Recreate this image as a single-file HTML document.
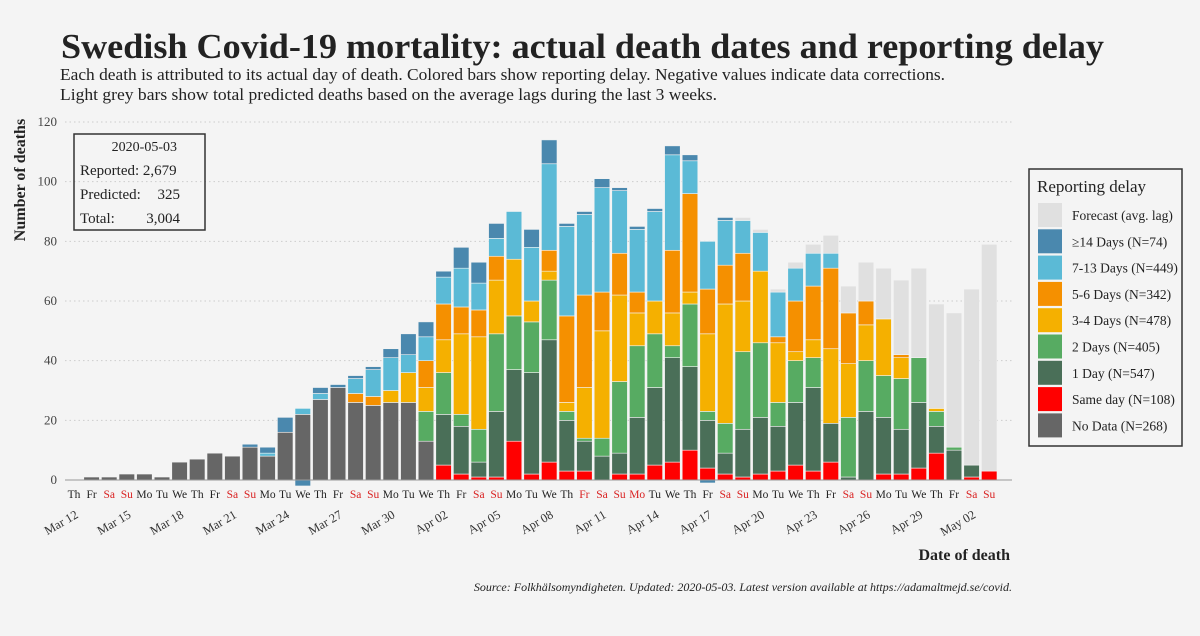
<!DOCTYPE html>
<html><head><meta charset="utf-8">
<style>
html,body{margin:0;padding:0;background:#f4f4f4;}
body{width:1200px;height:631px;overflow:hidden;font-family:"Liberation Serif",serif;}
svg text{font-family:"Liberation Serif",serif;}
</style></head>
<body>
<svg id="chart" width="1200" height="631" xmlns="http://www.w3.org/2000/svg">
<rect width="1200" height="631" fill="#f4f4f4"/>
<text x="61" y="58" font-size="35" font-weight="bold" fill="#222" textLength="1043" lengthAdjust="spacingAndGlyphs">Swedish Covid-19 mortality: actual death dates and reporting delay</text>
<text x="60" y="80" font-size="16.5" fill="#222" textLength="885" lengthAdjust="spacingAndGlyphs">Each death is attributed to its actual day of death. Colored bars show reporting delay. Negative values indicate data corrections.</text>
<text x="60" y="100" font-size="16.5" fill="#222" textLength="657" lengthAdjust="spacingAndGlyphs">Light grey bars show total predicted deaths based on the average lags during the last 3 weeks.</text>
<g id="grid"></g>
<g id="bars"></g>
<g id="axes"></g>
<text transform="translate(25,180) rotate(-90)" text-anchor="middle" font-size="16" font-weight="bold" fill="#222">Number of deaths</text>
<text x="1010" y="560" text-anchor="end" font-size="16" font-weight="bold" fill="#222">Date of death</text>
<text x="1012" y="591" text-anchor="end" font-size="12" font-style="italic" fill="#222">Source: Folkhälsomyndigheten. Updated: 2020-05-03. Latest version available at https://adamaltmejd.se/covid.</text>
<g>
<rect x="74" y="134" width="131" height="96" fill="none" stroke="#333" stroke-width="1.5"/>
<text x="177" y="151" text-anchor="end" font-size="14" fill="#222">2020-05-03</text>
<text x="80" y="175" font-size="15" fill="#222">Reported: 2,679</text>
<text x="80" y="199" font-size="15" fill="#222">Predicted:</text>
<text x="180" y="199" text-anchor="end" font-size="15" fill="#222">325</text>
<text x="80" y="223" font-size="15" fill="#222">Total:</text>
<text x="180" y="223" text-anchor="end" font-size="15" fill="#222">3,004</text>
</g>
<g id="legend">
<rect x="1029" y="169" width="153" height="277" fill="none" stroke="#333" stroke-width="1.5"/>
<text x="1037" y="192" font-size="17" fill="#222">Reporting delay</text>
</g>
</svg>
<script>
const days = ["Th","Fr","Sa","Su","Mo","Tu","We"];
const dateLabels = ["Mar 12","Mar 15","Mar 18","Mar 21","Mar 24","Mar 27","Mar 30","Apr 02","Apr 05","Apr 08","Apr 11","Apr 14","Apr 17","Apr 20","Apr 23","Apr 26","Apr 29","May 02"];
const yTicks = [0,20,40,60,80,100,120];
const holidays = [29,32];
// series (53 days, Mar 12 - May 3)
const noData   = [0,1,1,2,2,1,6,7,9,8,11,8,16,22,27,31,26,25,26,26,13,0,0,0,0,0,0,0,0,0,0,0,0,0,0,0,0,0,0,0,0,0,0,0,0,0,0,0,0,0,0,0,0];
const sameDay  = [0,0,0,0,0,0,0,0,0,0,0,0,0,0,0,0,0,0,0,0,0,5,2,1,1,13,2,6,3,3,0,2,2,5,6,10,4,2,1,2,3,5,3,6,0,0,2,2,4,9,0,1,3];
const oneDay   = [0,0,0,0,0,0,0,0,0,0,0,0,0,0,0,0,0,0,0,0,0,17,16,5,22,24,34,41,17,10,8,7,19,26,35,28,16,7,16,19,15,21,28,13,1,23,19,15,22,9,10,4,0];
const twoDays  = [0,0,0,0,0,0,0,0,0,0,0,0,0,0,0,0,0,0,0,0,10,14,4,11,26,18,17,20,3,1,6,24,24,18,4,21,3,10,26,25,8,14,10,0,20,17,14,17,15,5,1,0,0];
const d34      = [0,0,0,0,0,0,0,0,0,0,0,0,0,0,0,0,0,0,4,10,8,11,27,31,18,19,7,3,3,17,36,29,11,11,11,4,26,40,17,24,20,3,6,25,18,12,19,7,0,1,0,0,0];
const d56      = [0,0,0,0,0,0,0,0,0,0,0,0,0,0,0,0,3,3,0,0,9,12,9,9,8,0,0,7,29,31,13,14,7,0,21,33,15,13,16,0,2,17,18,27,17,8,0,1,0,0,0,0,0];
const d713     = [0,0,0,0,0,0,0,0,0,0,0,1,0,2,2,0,5,9,11,6,8,9,13,9,6,16,18,29,30,27,35,21,21,30,32,11,16,15,11,13,15,11,11,5,0,0,0,0,0,0,0,0,0];
const d14      = [0,0,0,0,0,0,0,0,0,0,1,2,5,-2,2,1,1,1,3,7,5,2,7,7,5,0,6,8,1,1,3,1,1,1,3,2,-1,1,0,0,0,0,0,0,0,0,0,0,0,0,0,0,0];
const forecast = [0,0,0,0,0,0,0,0,0,0,0,0,0,0,0,0,0,0,0,0,0,0,0,0,0,0,0,0,0,0,0,0,0,0,0,0,0,0,1,1,1,2,3,6,9,13,17,25,30,35,45,59,76];
const seriesList = [noData,sameDay,oneDay,twoDays,d34,d56,d713,d14,forecast];
const seriesNames = ["no-data","same-day","one-day","two-days","three-four-days","five-six-days","seven-thirteen-days","fourteen-plus-days","forecast"];
const colors = ["#666666","#ff0000","#4a6f58","#57ab62","#f5b000","#f59000","#5bbad6","#4a88ae","#e0e0e0"];
const legendLabels = ["Forecast (avg. lag)","≥14 Days (N=74)","7-13 Days (N=449)","5-6 Days (N=342)","3-4 Days (N=478)","2 Days (N=405)","1 Day (N=547)","Same day (N=108)","No Data (N=268)"];

const NS="http://www.w3.org/2000/svg";
const y0=480, yPer=358/120, x0=74, step=17.6, bw=15.6;
const yS = v => y0 - v*yPer;
const xS = i => x0 + step*i;
function mk(tag, attrs, parent){const e=document.createElementNS(NS,tag);for(const k in attrs)e.setAttribute(k,attrs[k]);parent.appendChild(e);return e;}
const grid=document.getElementById('grid'), bars=document.getElementById('bars'), axes=document.getElementById('axes');
yTicks.forEach(t=>{
  const l=mk('line',{x1:65,x2:1012,y1:yS(t),y2:yS(t),stroke:'#cccccc','stroke-dasharray':'1.5 3','stroke-width':1},grid);
  
  
  const tx=mk('text',{x:57,y:yS(t)+4,'text-anchor':'end','font-size':13,fill:'#444'},axes);
  tx.textContent=t;
  
  
});
const n=noData.length;
for(let i=0;i<n;i++){
  let pos=0, neg=0;
  seriesList.forEach((s,k)=>{
    const v=s[i]; if(!v) return;
    let yTop,h;
    if(v>0){yTop=yS(pos+v);h=v*yPer;pos+=v;}else{h=-v*yPer;yTop=yS(neg);neg+=v;}
    const r=mk('rect',{x:xS(i)-bw/2,y:yTop,width:bw,height:h,fill:colors[k],stroke:'#f4f4f4','stroke-width':0.6},bars);
    
    
  });
  const d=mk('text',{x:xS(i),y:498,'text-anchor':'middle','font-size':11.5,fill:((i%7==2||i%7==3)||holidays.includes(i))?'#d92020':'#222'},axes);
  d.textContent=days[i%7];
  
  
}
mk('line',{x1:65,x2:1012,y1:y0,y2:y0,stroke:'#999','stroke-width':1},axes);
dateLabels.forEach((lab,j)=>{
  const x=xS(j*3)+5, y=517;
  const t=mk('text',{x:x,y:y,'text-anchor':'end','font-size':12.5,fill:'#333',transform:`rotate(-30 ${x} ${y})`},axes);
  t.textContent=lab;
  
  
});
const leg=document.getElementById('legend');
legendLabels.forEach((lab,j)=>{
  const k=8-j, y=203+j*26.3;
  const r=mk('rect',{x:1038,y:y,width:24,height:24,fill:colors[k]},leg);
  
  
  const t=mk('text',{x:1072,y:y+17,'font-size':13.5,fill:'#222'},leg);
  t.textContent=lab;
  
  
});
</script>
</body></html>
